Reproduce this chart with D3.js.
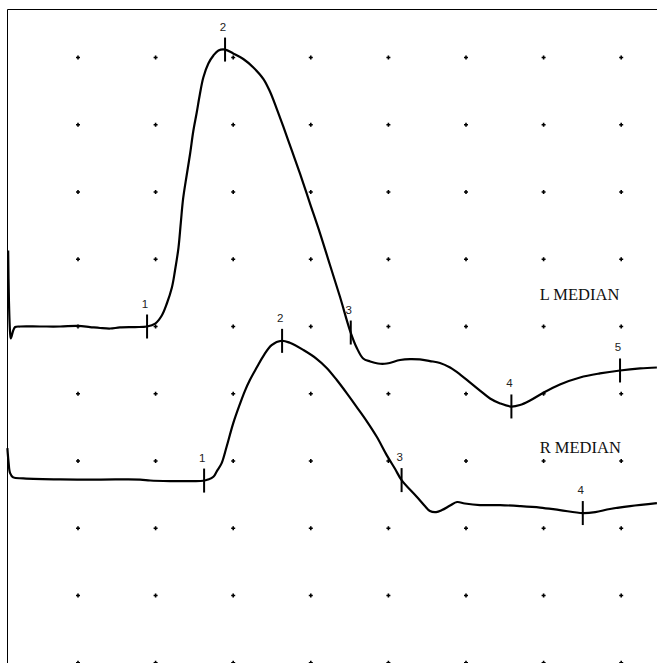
<!DOCTYPE html>
<html>
<head>
<meta charset="utf-8">
<script src="https://cdn.jsdelivr.net/npm/d3@7"></script>
<style>
  body { margin: 0; background: #fff; }
  svg { display: block; }
</style>
</head>
<body>
<div id="chart"></div>
<script>
const width = 657, height = 663;

// grid: 2 ms per division, 5 mV per division
const gridTimes = [2, 4, 6, 8, 10, 12, 14, 16];
const gridLevels = [0, -5, -10, -15, -20, -25, -30, -35, -40, -45];

// L MEDIAN trace: time (ms), amplitude (mV above its baseline)
const lTime = [0.20, 0.22, 0.25, 0.27, 0.33, 0.38, 0.51, 1.02, 1.54, 2.00, 2.31, 2.57, 2.83, 3.08, 3.47, 3.78,
  3.99, 4.16, 4.29, 4.42, 4.50, 4.59, 4.65, 4.71, 4.80, 4.89, 4.97, 5.06, 5.14, 5.23, 5.36, 5.49, 5.62, 5.79,
  6.00, 6.26, 6.52, 6.78, 6.95, 7.12, 7.29, 7.51, 7.72, 7.98, 8.24, 8.49, 8.75, 9.01, 9.18, 9.35,
  9.53, 9.73, 9.96, 10.30, 10.56, 10.81, 11.07, 11.33, 11.59, 11.85, 12.10, 12.36, 12.62, 12.88, 13.16, 13.39,
  13.65, 13.96, 14.42, 14.94, 15.45, 15.97, 16.49, 16.92];
const lAmp = [5.65, 1.93, -0.45, -0.89, -0.30, -0.04, 0, 0, 0, 0.04, -0.04, -0.11, -0.15, -0.07, -0.04, 0,
  0.22, 0.82, 1.71, 2.90, 4.16, 5.87, 7.73, 9.52, 11.23, 12.86, 14.50, 15.91, 17.25, 18.51, 19.55, 20.15, 20.52, 20.59,
  20.30, 19.89, 19.26, 18.40, 17.45, 16.20, 14.87, 13.09, 11.38, 9.14, 6.91, 4.61, 2.23, -0.30, -1.56, -2.38,
  -2.60, -2.75, -2.75, -2.49, -2.42, -2.45, -2.57, -2.71, -3.05, -3.57, -4.16, -4.76, -5.35, -5.72, -5.95, -5.84,
  -5.50, -4.98, -4.31, -3.79, -3.49, -3.27, -3.12, -3.05];

// R MEDIAN trace
const rTime = [0.18, 0.21, 0.25, 0.33, 0.59, 1.54, 2.57, 3.60, 3.86, 4.37, 4.89, 5.23, 5.35, 5.49, 5.58, 5.70,
  5.83, 6.00, 6.18, 6.30, 6.43, 6.61, 6.78, 6.99, 7.25, 7.46, 7.81, 8.15, 8.41, 8.67, 8.93, 9.18, 9.44, 9.70,
  9.96, 10.17, 10.34, 10.73, 10.94, 11.07, 11.23, 11.38, 11.59, 11.77, 11.97, 12.36, 12.88, 13.39, 13.91, 14.42,
  15.01, 15.33, 15.71, 16.23, 16.92];
const rAmp = [2.34, 1.30, 0.48, 0.16, 0.09, 0.01, 0, 0, -0.07, -0.11, -0.11, -0.09, 0, 0.21, 0.63, 1.20,
  2.44, 4.18, 5.67, 6.58, 7.40, 8.35, 9.20, 10.00, 10.32, 10.17, 9.63, 8.98, 8.30, 7.40, 6.41, 5.41, 4.35, 3.18,
  1.80, 0.80, -0.04, -1.28, -1.97, -2.34, -2.42, -2.27, -1.93, -1.67, -1.78, -1.90, -1.90, -1.97, -2.08, -2.27,
  -2.49, -2.42, -2.19, -1.97, -1.75];

const lMarkers = [3.78, 5.79, 9.03, 13.17, 15.97];
const rMarkers = [5.25, 7.26, 10.34, 15.01];

const traceNames = ["L MEDIAN", "R MEDIAN"];
const baselines = [-20, -31.38];   // mV on the common axis
const nameTime = 13.9;             // ms where the trace name starts
const nameLift = 2;                // mV above the baseline

const x = d3.scaleLinear().domain([0, 16]).range([0.4, 621.2]);
const y = d3.scaleLinear().domain([0, -45]).range([57.5, 662.75]);

const svg = d3.select("#chart").append("svg")
  .attr("width", width)
  .attr("height", height);

// frame, top and left only
svg.append("path")
  .attr("d", `M7.5,${height}V9.5H${width}`)
  .attr("fill", "none")
  .attr("stroke", "#000")
  .attr("stroke-width", 1);

// grid dots
const dots = [];
gridLevels.forEach(v => gridTimes.forEach(t => dots.push([t, v])));
svg.append("g")
  .selectAll("path")
  .data(dots)
  .join("path")
  .attr("transform", d => `translate(${x(d[0])},${y(d[1])})`)
  .attr("d", "M-2,0H2M0,-2V2")
  .attr("stroke", "#000")
  .attr("stroke-width", 1.6);

const traces = [
  { name: traceNames[0], base: baselines[0], pts: lTime.map((t, i) => [t, lAmp[i]]), markers: lMarkers },
  { name: traceNames[1], base: baselines[1], pts: rTime.map((t, i) => [t, rAmp[i]]), markers: rMarkers }
];

function ampAt(pts, t) {
  const i = d3.bisector(d => d[0]).left(pts, t);
  if (i <= 0) return pts[0][1];
  if (i >= pts.length) return pts[pts.length - 1][1];
  const a = pts[i - 1], b = pts[i];
  return a[1] + (b[1] - a[1]) * (t - a[0]) / (b[0] - a[0]);
}

traces.forEach(tr => {
  const line = d3.line()
    .x(d => x(d[0]))
    .y(d => y(tr.base + d[1]))
    .curve(d3.curveCatmullRom.alpha(0.5));

  svg.append("path")
    .datum(tr.pts)
    .attr("d", line)
    .attr("fill", "none")
    .attr("stroke", "#000")
    .attr("stroke-width", 2.2)
    .attr("stroke-linejoin", "round");

  const m = svg.append("g")
    .selectAll("g")
    .data(tr.markers)
    .join("g")
    .attr("transform", t => `translate(${x(t)},${y(tr.base + ampAt(tr.pts, t))})`);

  m.append("line")
    .attr("y1", -12)
    .attr("y2", 12)
    .attr("stroke", "#000")
    .attr("stroke-width", 2);

  m.append("text")
    .attr("x", -2)
    .attr("y", -19)
    .attr("text-anchor", "middle")
    .attr("font-family", "Liberation Sans, Arial, sans-serif")
    .attr("font-size", 11.5)
    .attr("fill", "#222")
    .text((t, i) => i + 1);

  svg.append("text")
    .attr("x", x(nameTime))
    .attr("y", y(tr.base + nameLift))
    .attr("font-family", "Liberation Serif, Times New Roman, serif")
    .attr("font-size", 16.5)
    .attr("fill", "#111")
    .text(tr.name);
});
</script>
</body>
</html>
